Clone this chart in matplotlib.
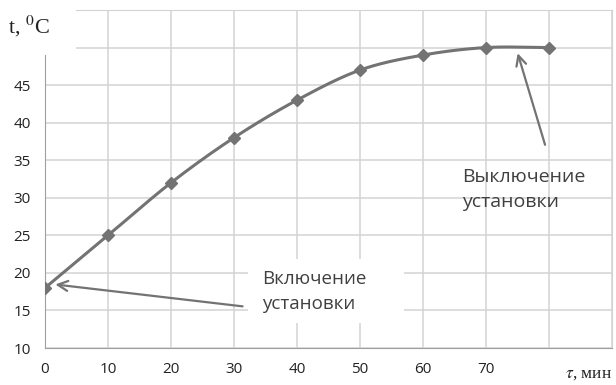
import numpy as np
import matplotlib
matplotlib.use("Agg")
import matplotlib.pyplot as plt
from matplotlib.patches import Rectangle

# data
time_min = [0, 10, 20, 30, 40, 50, 60, 70, 80]
temp_c = [18, 25, 32, 38, 43, 47, 49, 50, 50]
x_ticks = [0, 10, 20, 30, 40, 50, 60, 70, 80, 90]
x_labels = ['0', '10', '20', '30', '40', '50', '60', '70', '', '']
y_ticks = [10, 15, 20, 25, 30, 35, 40, 45, 50, 55]
y_labels = ['10', '15', '20', '25', '30', '35', '40', '45', '', '']
note_on = 'Включение\nустановки'
note_off = 'Выключение\nустановки'


def smooth(x, y, n=30):
    # catmull-rom, like the excel "smoothed line"
    x = np.asarray(x, float)
    y = np.asarray(y, float)
    px = np.concatenate([[2 * x[0] - x[1]], x, [2 * x[-1] - x[-2]]])
    py = np.concatenate([[2 * y[0] - y[1]], y, [2 * y[-1] - y[-2]]])
    xs, ys = [], []
    t = np.linspace(0, 1, n)
    for i in range(1, len(px) - 2):
        for p, out in ((px, xs), (py, ys)):
            p0, p1, p2, p3 = p[i - 1], p[i], p[i + 1], p[i + 2]
            out.extend(0.5 * (2 * p1 + (-p0 + p2) * t
                              + (2 * p0 - 5 * p1 + 4 * p2 - p3) * t ** 2
                              + (-p0 + 3 * p1 - 3 * p2 + p3) * t ** 3))
    return xs, ys


plt.rcParams['font.family'] = ['Open Sans', 'DejaVu Sans']
plt.rcParams['mathtext.fontset'] = 'stix'

fig = plt.figure(figsize=(6.16, 3.85), dpi=100)
ax = fig.add_axes([45 / 616, 37 / 385, 567 / 616, 338 / 385])

line_c = '#737373'
grid_c = '#d3d3d3'

sx, sy = smooth(time_min, temp_c)
ax.plot(sx, sy, color=line_c, lw=2.2, zorder=3)
ax.plot(time_min, temp_c, ls='none', marker='D', ms=6, color=line_c, zorder=4)

ax.set_xlim(0, 90)
ax.set_ylim(10, 55)
ax.set_xticks(x_ticks)
ax.set_xticklabels(x_labels)
ax.set_yticks(y_ticks)
ax.set_yticklabels(y_labels)
ax.tick_params(length=0, labelsize=11, colors='#222222', pad=10)
ax.grid(True, color=grid_c, lw=1.1)
ax.set_axisbelow(True)
for s in ['top', 'right']:
    ax.spines[s].set_color(grid_c)
for s in ['left', 'bottom']:
    ax.spines[s].set_color('#a0a0a0')

# white box behind "Включение установки"
ax.add_patch(Rectangle((32.2, 13.3), 24.8, 8.6, facecolor='white',
                       edgecolor='none', zorder=1.5))
ax.text(34.4, 17.5, note_on, ha='left', va='center', fontsize=13.5,
        color='#404040', linespacing=1.5, zorder=5)
ax.annotate('', xy=(1.2, 18.5), xytext=(31.8, 15.5),
            arrowprops=dict(arrowstyle='->', color=line_c, lw=1.6,
                            mutation_scale=18), zorder=5)

ax.text(66.2, 31.1, note_off, ha='left', va='center', fontsize=14,
        color='#404040', linespacing=1.5, zorder=5)
ax.annotate('', xy=(74.9, 49.6), xytext=(79.5, 36.7),
            arrowprops=dict(arrowstyle='->', color=line_c, lw=1.6,
                            mutation_scale=18), zorder=5)

# axis captions
fig.patches.append(Rectangle((0, 1 - 55 / 385), 76 / 616, 55 / 385,
                             transform=fig.transFigure, facecolor='white',
                             edgecolor='none', zorder=1))
fig.text(8 / 616, 1 - 26 / 385, 't, $^{0}$C', fontsize=16,
         family='Liberation Serif', va='center', color='#222222', zorder=2)
fig.text(612 / 616, 1 - 374 / 385, '$\\tau$, мин', fontsize=12.5,
         family='Liberation Serif', ha='right', va='center', color='#222222')

fig.savefig('out.png', dpi=100)
